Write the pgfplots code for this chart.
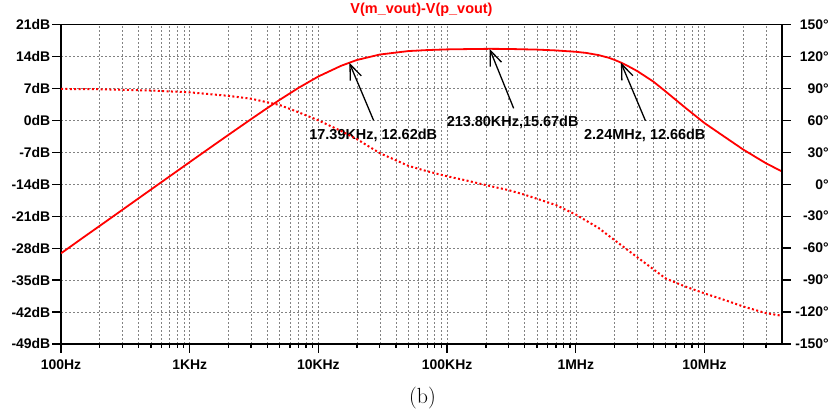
\documentclass[border=0pt]{standalone}
\usepackage{pgfplots}
\pgfplotsset{compat=1.18}
\usepackage{fontspec}
\usetikzlibrary{arrows.meta}
\newfontfamily\lsans{Liberation Sans}
\definecolor{gridgray}{RGB}{130,130,130}

\begin{document}
\begin{tikzpicture}
\useasboundingbox (0,0) rectangle (831bp,415bp);

% magnitude, left axis
\begin{axis}[
    at={(61bp,71bp)}, anchor=south west,
    scale only axis, width=721bp, height=319.5bp,
    xmode=log, xmin=100, xmax=4e7,
    ymin=-49, ymax=21,
    xtick={1e2,1e3,1e4,1e5,1e6,1e7},
    xticklabels={100Hz,1KHz,10KHz,100KHz,1MHz,10MHz},
    minor xtick={2e2,3e2,4e2,5e2,6e2,7e2,8e2,9e2,
                 2e3,3e3,4e3,5e3,6e3,7e3,8e3,9e3,
                 2e4,3e4,4e4,5e4,6e4,7e4,8e4,9e4,
                 2e5,3e5,4e5,5e5,6e5,7e5,8e5,9e5,
                 2e6,3e6,4e6,5e6,6e6,7e6,8e6,9e6,
                 2e7,3e7},
    ytick={-49,-42,-35,-28,-21,-14,-7,0,7,14,21},
    yticklabels={-49dB,-42dB,-35dB,-28dB,-21dB,-14dB,-7dB,0dB,7dB,14dB,21dB},
    xtick pos=bottom, ytick pos=left,
    tick align=outside,
    major tick length=9bp, minor tick length=4bp,
    tick style={black, line width=1.3bp},
    axis line style={line width=1.5bp},
    xmajorgrids, xminorgrids, ymajorgrids,
    major grid style={gridgray, line width=0.6bp, dash pattern=on 2bp off 2bp},
    minor grid style={gridgray, line width=0.6bp, dash pattern=on 2bp off 2bp},
    ticklabel style={font=\lsans\bfseries\fontsize{14}{16}\selectfont, inner sep=1.5bp},
    xticklabel style={yshift=-5bp},
    title={V(m\_vout)-V(p\_vout)},
    title style={font=\lsans\bfseries\fontsize{14.5}{16}\selectfont, text=red,
                 at={(0.5,1)}, anchor=base, yshift=5bp},
]
\addplot[red, line width=1.8bp] coordinates {
  (100,-29.14) (150,-25.6) (200,-23.12) (300,-19.6) (500,-15.16) (700,-12.25)
  (1000,-9.15) (1500,-5.65) (2000,-3.18) (3000,0.27) (4000,2.68) (5000,4.49)
  (7000,7.11) (10000,9.62) (15000,11.95) (17390,12.62) (20000,13.24)
  (30000,14.42) (50000,15.18) (70000,15.40) (100000,15.55) (150000,15.62)
  (213800,15.67) (300000,15.64) (500000,15.5) (700000,15.32) (1000000,15.02)
  (1200000,14.78) (1500000,14.3) (1800000,13.72) (2000000,13.25)
  (2240000,12.66) (2600000,11.75) (3000000,10.8) (4000000,8.5)
  (5000000,6.3) (7000000,2.9) (10000000,-0.6) (15000000,-4.0) (20000000,-6.4)
  (30000000,-9.4) (40000000,-11.2)
};

\draw[line width=1.3bp, -{Straight Barb[length=15bp,width=12bp]}]
  (axis cs:26830,0) -- (axis cs:17390,12.62);
\draw[line width=1.3bp, -{Straight Barb[length=15bp,width=12bp]}]
  (axis cs:328900,2.64) -- (axis cs:213800,15.67);
\draw[line width=1.3bp, -{Straight Barb[length=15bp,width=12bp]}]
  (axis cs:3475000,-0.08) -- (axis cs:2240000,12.66);
\node[font=\lsans\bfseries\fontsize{14.5}{16}\selectfont] at (axis cs:26670,-3.2) {17.39KHz, 12.62dB};
\node[font=\lsans\bfseries\fontsize{14.5}{16}\selectfont] at (axis cs:322800,-0.5) {213.80KHz,15.67dB};
\node[font=\lsans\bfseries\fontsize{14.5}{16}\selectfont] at (axis cs:3436000,-3.2) {2.24MHz, 12.66dB};
\end{axis}

% phase, right axis
\begin{axis}[
    at={(61bp,71bp)}, anchor=south west,
    scale only axis, width=721bp, height=319.5bp,
    xmode=log, xmin=100, xmax=4e7,
    ymin=-150, ymax=150,
    axis x line=none, axis y line*=right,
    ytick={-150,-120,-90,-60,-30,0,30,60,90,120,150},
    yticklabels={-150°,-120°,-90°,-60°,-30°,0°,30°,60°,90°,120°,150°},
    ytick align=outside,
    major tick length=9bp,
    tick style={black, line width=1.3bp},
    axis line style={line width=1.5bp},
    yticklabel style={font=\lsans\bfseries\fontsize{14}{16}\selectfont,
                      anchor=east, inner sep=0pt, xshift=38bp},
]
\addplot[red, line width=2bp, dash pattern=on 2bp off 2.4bp] coordinates {
  (100,89.5) (200,89.2) (500,88) (1000,86.3) (2000,83) (3000,80.3)
  (5000,74.4) (7000,67.6) (10000,60) (15000,50) (20000,42.2) (30000,29.2)
  (50000,17.3) (70000,12.2) (100000,7.5) (150000,2.8) (210000,-1.4)
  (300000,-5.5) (400000,-9.8) (700000,-19.5) (1000000,-28.5) (1500000,-41)
  (2000000,-52.5) (3000000,-68.5) (5000000,-88.5) (7000000,-95.8)
  (10000000,-102.5) (15000000,-109.5) (20000000,-114.8) (30000000,-121)
  (40000000,-123.5)
};
\end{axis}

\node at (422.5bp,16.5bp) {\fontsize{22}{24}\selectfont (b)};
\end{tikzpicture}
\end{document}
